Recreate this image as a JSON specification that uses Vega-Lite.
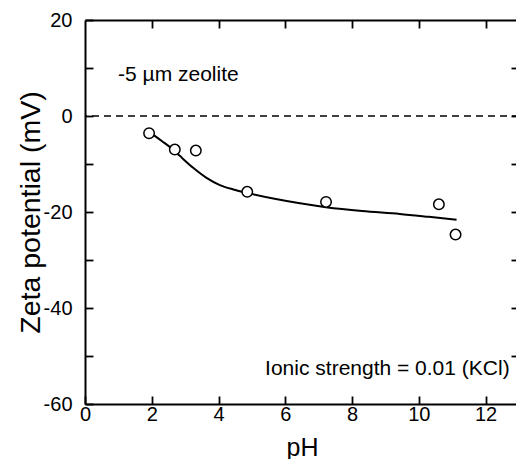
{
  "$schema": "https://vega.github.io/schema/vega-lite/v6.json",
  "width": 434,
  "height": 384,
  "autosize": {"type": "none"},
  "padding": {"left": 85, "top": 20, "right": 0, "bottom": 55},
  "background": "white",
  "config": {
    "view": {"stroke": null},
    "font": "Liberation Sans",
    "axis": {
      "grid": false,
      "domainColor": "black",
      "domainWidth": 2,
      "tickColor": "black",
      "tickWidth": 1.8,
      "tickSize": -8,
      "labelColor": "black",
      "titleColor": "black",
      "labelFont": "Liberation Sans",
      "titleFont": "Liberation Sans",
      "labelFontSize": 20,
      "titleFontSize": 25,
      "titleFontWeight": "normal"
    }
  },
  "resolve": {"axis": {"x": "independent", "y": "independent"}},
  "layer": [
    {
      "data": {"values": [{"ref": 0}]},
      "mark": {"type": "rule", "strokeDash": [7, 5], "strokeWidth": 1.5, "color": "black"},
      "encoding": {
        "y": {"field": "ref", "type": "quantitative", "scale": {"domain": [-60, 20], "nice": false}, "axis": null}
      }
    },
    {
      "data": {"values": [
        {"pH": 1.92, "zeta": -3.3},
        {"pH": 2.3, "zeta": -5.2},
        {"pH": 2.64, "zeta": -7.0},
        {"pH": 2.84, "zeta": -8.3},
        {"pH": 3.24, "zeta": -10.8},
        {"pH": 3.64, "zeta": -12.9},
        {"pH": 4.04, "zeta": -14.4},
        {"pH": 4.44, "zeta": -15.3},
        {"pH": 4.84, "zeta": -16.0},
        {"pH": 5.64, "zeta": -17.2},
        {"pH": 6.44, "zeta": -18.2},
        {"pH": 7.22, "zeta": -19.0},
        {"pH": 8.3, "zeta": -19.8},
        {"pH": 9.43, "zeta": -20.4},
        {"pH": 10.3, "zeta": -21.0},
        {"pH": 11.13, "zeta": -21.6}
      ]},
      "mark": {"type": "line", "color": "black", "strokeWidth": 2, "interpolate": "monotone"},
      "encoding": {
        "x": {"field": "pH", "type": "quantitative", "scale": {"domain": [0, 13], "nice": false},
              "axis": {"orient": "top", "values": [2, 4, 6, 8, 10, 12], "labels": false, "title": null}},
        "y": {"field": "zeta", "type": "quantitative", "scale": {"domain": [-60, 20], "nice": false},
              "axis": {"orient": "right", "values": [-50, -40, -30, -20, -10, 0, 10], "labels": false, "title": null}}
      }
    },
    {
      "data": {"values": [
        {"pH": 1.92, "zeta": -3.6},
        {"pH": 2.69, "zeta": -7.0},
        {"pH": 3.32, "zeta": -7.2},
        {"pH": 4.86, "zeta": -15.8},
        {"pH": 7.22, "zeta": -17.9},
        {"pH": 10.6, "zeta": -18.4},
        {"pH": 11.1, "zeta": -24.7}
      ]},
      "mark": {"type": "point", "shape": "circle", "filled": false, "size": 110, "stroke": "black", "strokeWidth": 1.5, "fill": "white", "fillOpacity": 1, "opacity": 1},
      "encoding": {
        "x": {"field": "pH", "type": "quantitative", "scale": {"domain": [0, 13], "nice": false},
              "axis": {"orient": "bottom", "values": [0, 2, 4, 6, 8, 10, 12], "title": "pH", "labelPadding": 8, "titlePadding": 11, "labelFlush": false}},
        "y": {"field": "zeta", "type": "quantitative", "scale": {"domain": [-60, 20], "nice": false},
              "axis": {"orient": "left", "values": [-60, -50, -40, -30, -20, -10, 0, 10, 20],
                       "labelExpr": "datum.value % 20 == 0 ? '' + datum.value : ''",
                       "title": "Zeta potential (mV)", "titleFontSize": 28.5, "labelPadding": 21, "titlePadding": -2, "labelFlush": false}}
      }
    },
    {
      "data": {"values": [
        {"pH": 0.99, "zeta": 8.6, "label": "-5 µm zeolite"}
      ]},
      "mark": {"type": "text", "fontSize": 21, "color": "black", "baseline": "middle", "align": "left", "font": "Liberation Sans"},
      "encoding": {
        "x": {"field": "pH", "type": "quantitative", "scale": {"domain": [0, 13], "nice": false}, "axis": null},
        "y": {"field": "zeta", "type": "quantitative", "scale": {"domain": [-60, 20], "nice": false}, "axis": null},
        "text": {"field": "label"}
      }
    },
    {
      "data": {"values": [
        {"pH": 12.72, "zeta": -52.7, "label": "Ionic strength = 0.01 (KCl)"}
      ]},
      "mark": {"type": "text", "fontSize": 21, "color": "black", "baseline": "middle", "align": "right", "font": "Liberation Sans"},
      "encoding": {
        "x": {"field": "pH", "type": "quantitative", "scale": {"domain": [0, 13], "nice": false}, "axis": null},
        "y": {"field": "zeta", "type": "quantitative", "scale": {"domain": [-60, 20], "nice": false}, "axis": null},
        "text": {"field": "label"}
      }
    }
  ]
}
